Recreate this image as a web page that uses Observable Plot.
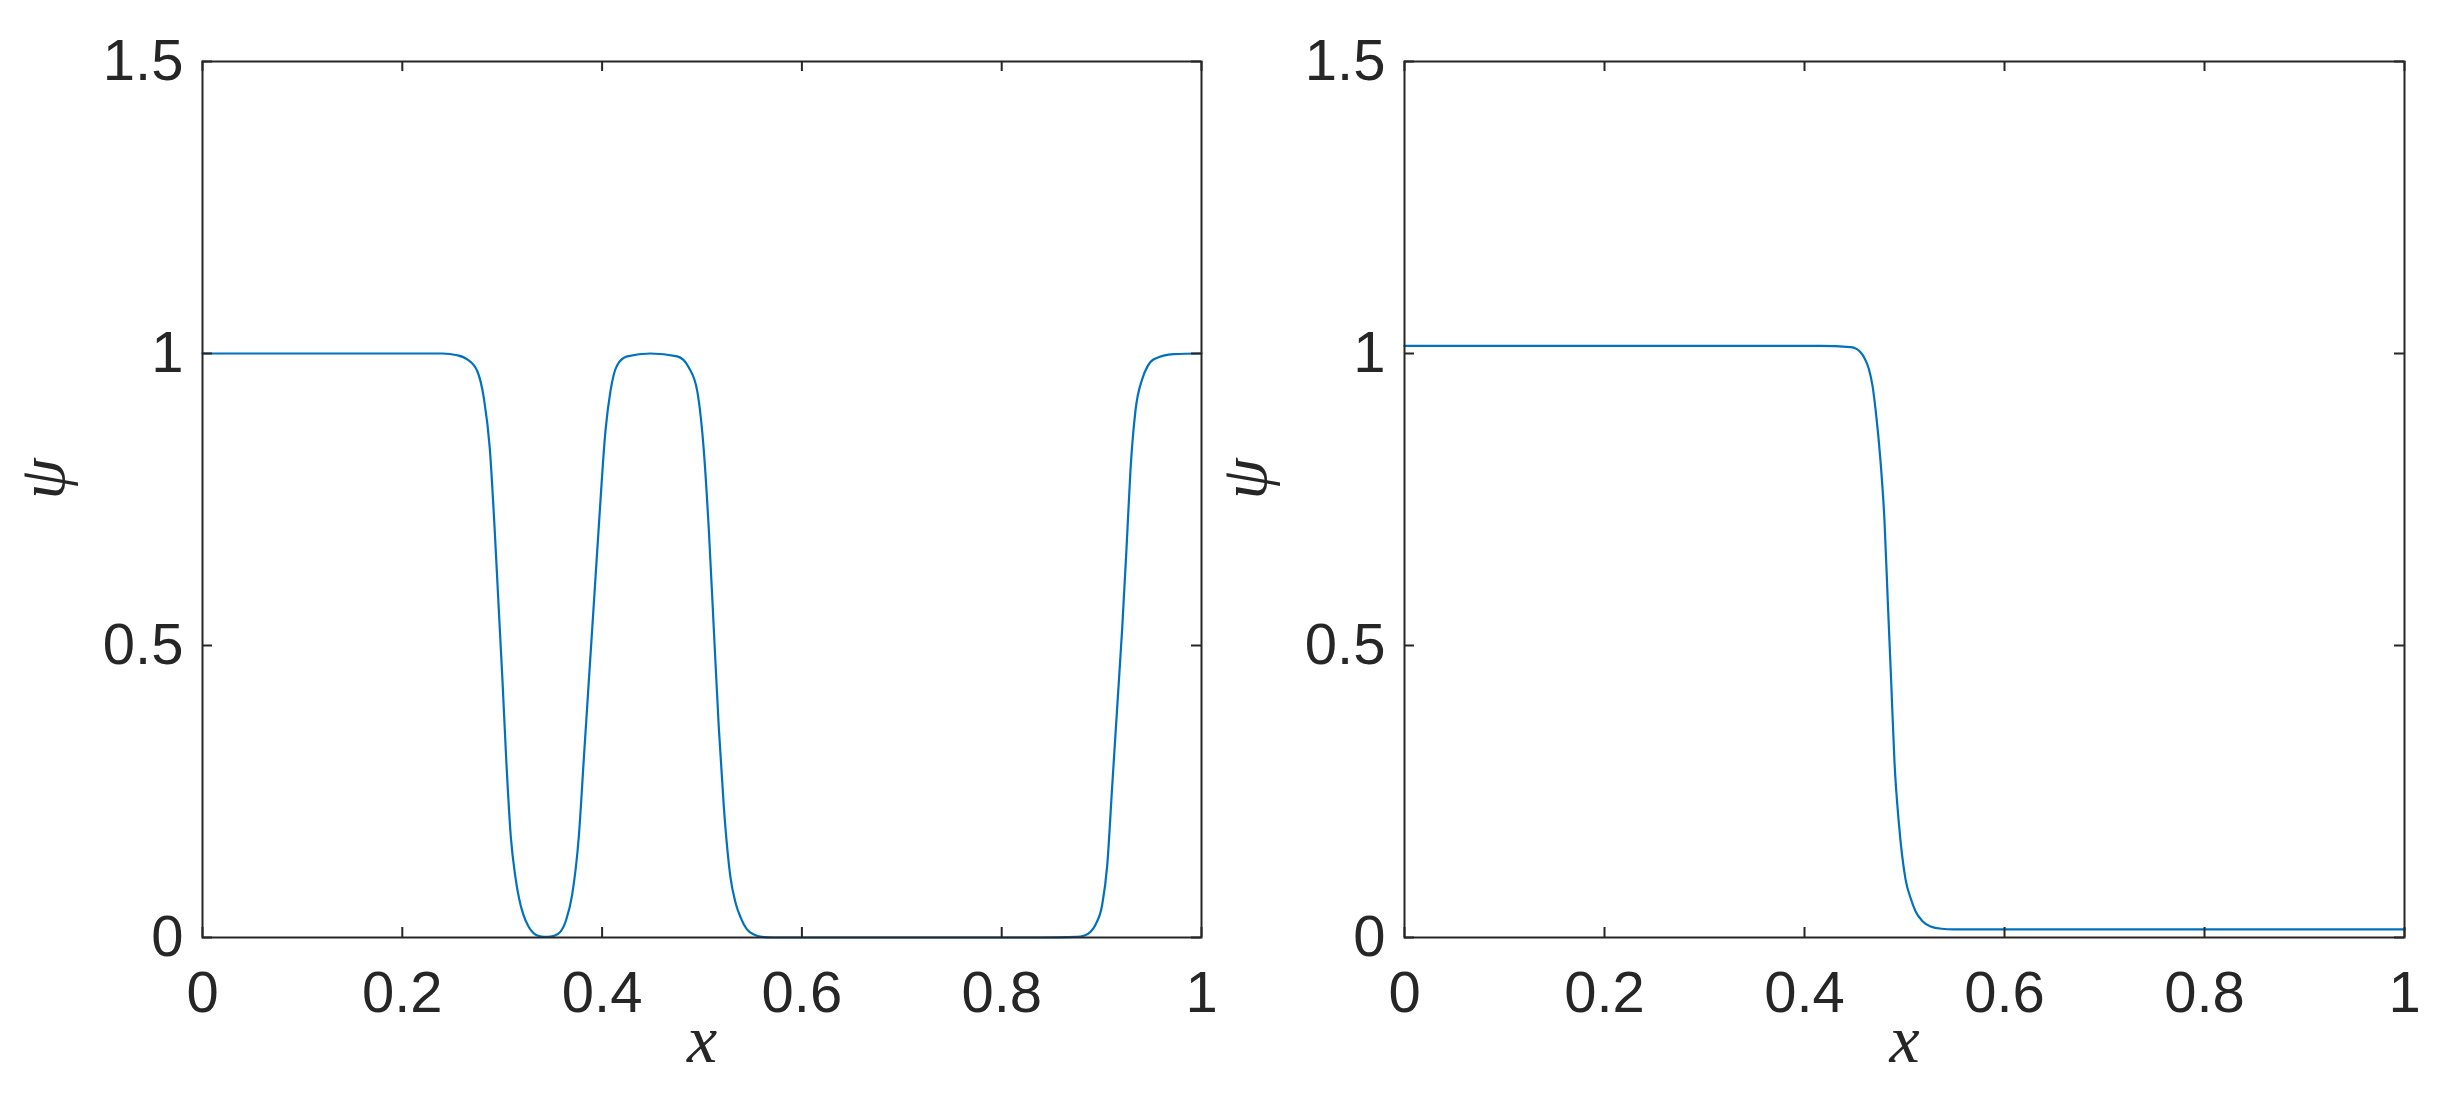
<!DOCTYPE html>
<html><head><meta charset="utf-8">
<script src="https://cdn.jsdelivr.net/npm/d3@7"></script>
<script src="https://cdn.jsdelivr.net/npm/@observablehq/plot@0.6"></script>
<style>
html,body{margin:0;padding:0;background:#fff;overflow:hidden}
#wrap{display:flex;width:2457px;height:1113px}
#wrap svg{display:block}
</style>
</head><body><div id="wrap"></div>
<script>
const xTicks = [0, 0.2, 0.4, 0.6, 0.8, 1];
const yTicks = [0, 0.5, 1, 1.5];
const xLabel = "x";
const yLabel = "ψ";

const leftX = [0, 0.10, 0.20, 0.24, 0.255, 0.265, 0.275, 0.2816, 0.2876, 0.2923, 0.2963, 0.3003, 0.3040, 0.3086, 0.3130, 0.3170, 0.3210, 0.3266, 0.3316, 0.338, 0.345, 0.352, 0.3584, 0.364, 0.3700, 0.3767, 0.3817, 0.3867, 0.3917, 0.3967, 0.4034, 0.4084, 0.4151, 0.4251, 0.4484, 0.4752, 0.4868, 0.4952, 0.5018, 0.5068, 0.5118, 0.5168, 0.5218, 0.5285, 0.5335, 0.5385, 0.545, 0.5519, 0.56, 0.5719, 0.70, 0.8388, 0.875, 0.8822, 0.889, 0.8939, 0.9006, 0.9056, 0.9106, 0.9156, 0.9206, 0.9249, 0.9289, 0.9339, 0.9406, 0.946, 0.9523, 0.9723, 1.0];
const leftPsi = [1, 1, 1, 1, 0.997, 0.99, 0.97, 0.924, 0.837, 0.704, 0.571, 0.439, 0.306, 0.173, 0.106, 0.066, 0.040, 0.018, 0.007, 0.002, 0.001, 0.003, 0.010, 0.030, 0.073, 0.173, 0.306, 0.439, 0.571, 0.704, 0.868, 0.936, 0.980, 0.995, 1.0, 0.995, 0.976, 0.936, 0.834, 0.699, 0.529, 0.360, 0.225, 0.103, 0.060, 0.035, 0.014, 0.005, 0.001, 0, 0, 0, 0.001, 0.003, 0.010, 0.022, 0.056, 0.123, 0.259, 0.394, 0.529, 0.665, 0.800, 0.902, 0.956, 0.978, 0.990, 0.999, 1.0];

const rightX = [0, 0.2, 0.416, 0.446, 0.452, 0.456, 0.460, 0.4643, 0.468, 0.471, 0.476, 0.480, 0.4833, 0.4867, 0.490, 0.4943, 0.501, 0.506, 0.511, 0.518, 0.526, 0.537, 0.5493, 0.70, 1.0];
const rightPsi = [1.013, 1.013, 1.013, 1.011, 1.008, 1.002, 0.992, 0.974, 0.945, 0.905, 0.816, 0.713, 0.575, 0.438, 0.300, 0.197, 0.100, 0.068, 0.045, 0.028, 0.019, 0.015, 0.014, 0.014, 0.014];

const INK = "#262626";
const LINE = "#0072BD";

function panel(xs, ys, {width, marginLeft, marginRight}) {
  const data = xs.map((x, i) => ({x, psi: ys[i]}));
  const H = 1113, mt = 61, mb = 176;
  const innerH = H - mt - mb;
  const innerW = width - marginLeft - marginRight;
  const tick = 10;
  return Plot.plot({
    width, height: H, marginLeft, marginRight, marginTop: mt, marginBottom: mb,
    x: {domain: [0, 1]},
    y: {domain: [0, 1.5]},
    style: {fontFamily: "'Liberation Sans', Arial, Helvetica, sans-serif", fontSize: "58px", color: INK, background: "#fff", overflow: "visible"},
    marks: [
      Plot.line(data, {x: "x", y: "psi", stroke: LINE, strokeWidth: 2.2, curve: "monotone-x"}),
      Plot.tickX(xTicks, {x: d => d, insetTop: innerH - tick, stroke: INK, strokeWidth: 2}),
      Plot.tickX(xTicks, {x: d => d, insetBottom: innerH - tick, stroke: INK, strokeWidth: 2}),
      Plot.tickY(yTicks, {y: d => d, insetRight: innerW - tick, stroke: INK, strokeWidth: 2}),
      Plot.tickY(yTicks, {y: d => d, insetLeft: innerW - tick, stroke: INK, strokeWidth: 2}),
      Plot.frame({stroke: INK, strokeWidth: 2}),
      Plot.axisX(xTicks, {tickSize: 0, tickPadding: 33, label: null, tickFormat: d => String(d)}),
      Plot.axisY(yTicks, {tickSize: 0, tickPadding: 19, label: null, tickFormat: d => String(d)}),
      Plot.text([xLabel], {text: d => d, frameAnchor: "bottom", dy: 124, fontFamily: "'Liberation Serif', 'DejaVu Serif', serif", fontStyle: "italic", fontSize: 68, fill: INK}),
      Plot.text([yLabel], {text: d => d, frameAnchor: "left", dx: -160, rotate: -90, fontFamily: "'Liberation Serif', 'DejaVu Serif', serif", fontStyle: "italic", fontSize: 66, fill: INK})
    ]
  });
}

const wrap = document.getElementById("wrap");
wrap.append(panel(leftX, leftPsi, {width: 1228, marginLeft: 202, marginRight: 27}));
wrap.append(panel(rightX, rightPsi, {width: 1229, marginLeft: 176, marginRight: 53}));
</script>
</body></html>
